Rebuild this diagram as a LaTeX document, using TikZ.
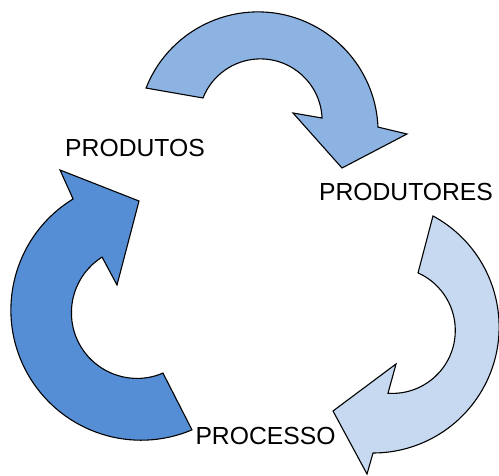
\documentclass[tikz,border=0pt]{standalone}
\usepackage{fontspec}
\setmainfont{Liberation Sans}
\definecolor{arrowtop}{HTML}{8DB3E2}
\definecolor{arrowleft}{HTML}{558ED5}
\definecolor{arrowright}{HTML}{C6D9F1}
\tikzset{
  cyclearrow/.style={draw=black, line width=1.1pt, line join=miter},
  lbl/.style={inner sep=0pt, font=\fontsize{24.7}{30}\selectfont}
}
\begin{document}
\begin{tikzpicture}[x=1pt,y=1pt]
\useasboundingbox (0,0) rectangle (499,475);
% top arrow
\filldraw[cyclearrow, fill=arrowtop]
  ([shift={(257.9,342.9)}]158.5:120.2) arc[start angle=158.5, end angle=2.4, radius=120.2pt]
  -- (407,341) -- (342,307) -- (293,362)
  -- ([shift={(260.4,354.4)}]2.4:61.7) arc[start angle=2.4, end angle=158.5, radius=61.7pt]
  -- cycle;
% left arrow
\filldraw[cyclearrow, fill=arrowleft]
  (60,305) -- ([shift={(141.1,165)}]121.5:130.2) arc[start angle=121.5, end angle=293, radius=130.2pt]
  -- ([shift={(137.1,162.3)}]293.2:65.7) arc[start angle=293.2, end angle=122.2, radius=65.7pt]
  -- (117,190) -- (139,274) -- cycle;
% right arrow
\filldraw[cyclearrow, fill=arrowright]
  ([shift={(373,148.1)}]61.6:126.1) arc[start angle=61.6, end angle=-90, radius=126.1pt]
  -- (367,1) -- (333,64) -- (396,111)
  -- ([shift={(392.3,144.6)}]-93.9:63) arc[start angle=-93.9, end angle=65.9, radius=63pt]
  -- cycle;
% labels
\node[lbl] (prodt) at (135,327) {PRODUTOS};
\node[lbl] (prodr) at (406,283) {PRODUTORES};
\node[lbl] (proc) at (265.5,39.5) {PROCESSO};
\end{tikzpicture}
\end{document}
